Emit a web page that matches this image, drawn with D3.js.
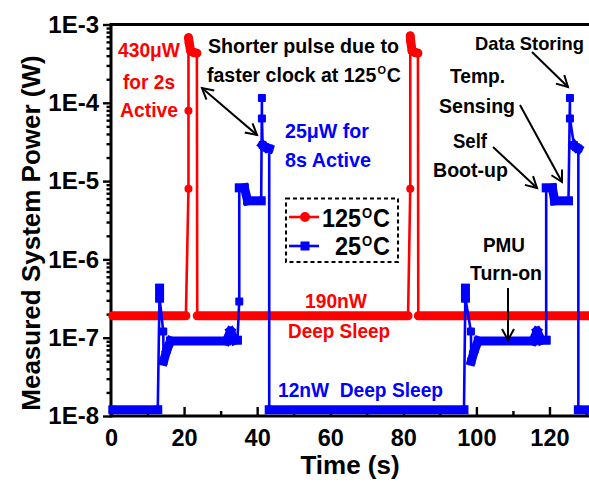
<!DOCTYPE html>
<html>
<head>
<meta charset="utf-8">
<script src="https://cdn.jsdelivr.net/npm/d3@7"></script>
<style>
  html, body { margin: 0; padding: 0; background: #fff; }
  svg { display: block; font-family: "Liberation Sans", Arial, Helvetica, sans-serif; font-weight: bold; }
</style>
</head>
<body>
<svg id="chart" width="589" height="483"></svg>
<script>
// ---- measured system power, 125 °C (time in s, power in W) ----
const time125  = [0.5, 20.5, 21.2, 21.2, 21.2, 21.4, 21.8, 22.6, 23.5, 23.6,
                  81.3, 81.9, 81.9, 82.0, 82.4, 83.2, 84.0, 84.1, 131.5];
const power125 = [1.9e-7, 1.9e-7, 8.0e-6, 7.9e-5, 6.8e-4, 5.8e-4, 4.6e-4, 4.4e-4, 4.3e-4, 1.9e-7,
                  1.9e-7, 8.0e-6, 7.2e-4, 6.2e-4, 4.6e-4, 4.4e-4, 4.3e-4, 1.9e-7, 1.9e-7];

// ---- measured system power, 25 °C ----
const time25  = [0.5, 12.8, 13.3, 13.3, 14.3, 14.4, 15.3, 16.3, 31.6, 32.7, 33.8, 34.6,
                 35.1, 35.1, 36.5, 37.4, 41.1, 41.3, 41.3, 41.5, 42.3, 43.3, 43.3,
                 96.6, 97.0, 97.0, 98.5, 98.6, 99.5, 100.5, 115.5, 116.6, 117.7, 119.1,
                 119.1, 120.8, 121.4, 125.2, 125.6, 125.6, 126.7, 127.3, 127.9, 127.9, 131.5];
const power25 = [1.2e-8, 1.2e-8, 4.3e-7, 3.2e-7, 1.2e-7, 5.0e-8, 7.0e-8, 9.1e-8, 9.1e-8, 1.2e-7, 9.3e-8, 9.3e-8,
                 2.9e-7, 8.2e-6, 8.2e-6, 5.6e-6, 5.6e-6, 1.15e-4, 6.3e-5, 2.9e-5, 2.7e-5, 2.6e-5, 1.2e-8,
                 1.2e-8, 4.3e-7, 3.2e-7, 1.2e-7, 5.0e-8, 7.0e-8, 9.1e-8, 9.1e-8, 1.2e-7, 9.3e-8, 9.3e-8,
                 8.2e-6, 8.2e-6, 5.6e-6, 5.6e-6, 1.15e-4, 6.3e-5, 2.9e-5, 2.7e-5, 2.6e-5, 1.2e-8, 1.2e-8];

// ---- axes ----
const xTicks = [0, 20, 40, 60, 80, 100, 120];
const xMinorTicks = [10, 30, 50, 70, 90, 110, 130];
const yTicks = [1e-8, 1e-7, 1e-6, 1e-5, 1e-4, 1e-3];
const yTickLabels = ["1E-8", "1E-7", "1E-6", "1E-5", "1E-4", "1E-3"];

const RED = "#ff0000", BLUE = "#0000ff";

const svg = d3.select("#chart");

const x = d3.scaleLinear().domain([0, 140]).range([111, 111 + 140 * 3.654]);
const y = d3.scaleLog().domain([1e-8, 1e-3]).range([416, 24.5]);

// frame: top border and left/bottom axis lines (the frame runs past the right edge)
const frame = svg.append("g").attr("stroke", "#000").attr("stroke-width", 3).attr("fill", "none");
frame.append("line").attr("x1", x(0)).attr("x2", x(140)).attr("y1", y(1e-3)).attr("y2", y(1e-3));
frame.append("line").attr("x1", x(0)).attr("x2", x(140)).attr("y1", y(1e-8)).attr("y2", y(1e-8));
frame.append("line").attr("x1", x(0)).attr("x2", x(0)).attr("y1", y(1e-3) - 1.5).attr("y2", y(1e-8) + 1.5);

// x axis: ticks point into the plot
const xAxis = svg.append("g").attr("transform", `translate(0,${y(1e-8)})`)
  .call(d3.axisBottom(x).tickValues(xTicks).tickSize(-9).tickPadding(13).tickFormat(d3.format("d")));
const xMinor = svg.append("g").attr("transform", `translate(0,${y(1e-8)})`)
  .call(d3.axisBottom(x).tickValues(xMinorTicks).tickSize(-5).tickFormat(""));

// y axis: ticks point outward, minor ticks at 2..9 of each decade
const yAxis = svg.append("g").attr("transform", `translate(${x(0)},0)`)
  .call(d3.axisLeft(y).tickValues(yTicks).tickSize(8).tickPadding(4)
        .tickFormat((d, i) => yTickLabels[i]));
const yMinorVals = y.ticks().filter(v => !yTicks.some(t => Math.abs(t - v) / t < 1e-6));
const yMinor = svg.append("g").attr("transform", `translate(${x(0)},0)`)
  .call(d3.axisLeft(y).tickValues(yMinorVals).tickSize(4.5).tickFormat(""));

[xAxis, xMinor, yAxis, yMinor].forEach(a => {
  a.select(".domain").remove();
  a.selectAll(".tick line").attr("stroke", "#000").attr("stroke-width", 2.4);
  a.selectAll("text").attr("font-family", null).attr("font-size", 24).attr("fill", "#000");
});
xAxis.selectAll("text").attr("font-size", 23.5);

// axis titles
svg.append("text").attr("x", 350).attr("y", 474).attr("text-anchor", "middle")
  .attr("font-size", 26).text("Time (s)");
svg.append("text").attr("transform", "translate(40,233) rotate(-90)").attr("text-anchor", "middle")
  .attr("font-size", 26).text("Measured System Power (W)");

// ---- series ----
const plot = svg.append("g");

function drawSeries(times, powers, color, shape) {
  const pts = times.map((t, i) => [x(t), y(powers[i])]);
  const g = plot.append("g");
  g.append("path").attr("d", d3.line()(pts))
    .attr("fill", "none").attr("stroke", color).attr("stroke-width", 2.6).attr("stroke-linejoin", "round");
  // steady levels are sampled densely, so their markers merge into a solid bar
  for (let i = 1; i < pts.length; i++) {
    if (Math.abs(Math.log10(powers[i] / powers[i - 1])) < 0.2) {
      g.append("line")
        .attr("x1", pts[i - 1][0]).attr("y1", pts[i - 1][1])
        .attr("x2", pts[i][0]).attr("y2", pts[i][1])
        .attr("stroke", color).attr("stroke-width", 9)
        .attr("stroke-linecap", shape === "circle" ? "round" : "square");
    }
  }
  if (shape === "circle") {
    g.selectAll("circle").data(pts).join("circle")
      .attr("cx", d => d[0]).attr("cy", d => d[1]).attr("r", 4).attr("fill", color);
  } else {
    g.selectAll("rect").data(pts).join("rect")
      .attr("x", d => d[0] - 4).attr("y", d => d[1] - 4).attr("width", 8).attr("height", 8)
      .attr("rx", 1).attr("fill", color);
  }
}
drawSeries(time125, power125, RED, "circle");
drawSeries(time25, power25, BLUE, "square");

// ---- legend ----
const lg = svg.append("g");
lg.append("rect").attr("x", 286).attr("y", 198.5).attr("width", 112).attr("height", 63.5)
  .attr("fill", "#fff").attr("stroke", "#000").attr("stroke-width", 2).attr("stroke-dasharray", "4,3");
lg.append("line").attr("x1", 289).attr("x2", 319).attr("y1", 217).attr("y2", 217)
  .attr("stroke", RED).attr("stroke-width", 2.6);
lg.append("circle").attr("cx", 305).attr("cy", 217).attr("r", 5).attr("fill", RED);
lg.append("line").attr("x1", 289).attr("x2", 319).attr("y1", 246).attr("y2", 246)
  .attr("stroke", BLUE).attr("stroke-width", 2.6);
lg.append("rect").attr("x", 300.5).attr("y", 241.5).attr("width", 9).attr("height", 9).attr("fill", BLUE);

// text helper: left edge, baseline, fitted width
function label(txt, left, base, width, size, color) {
  return svg.append("text").attr("x", left).attr("y", base)
    .attr("font-size", size).attr("fill", color || "#000")
    .attr("textLength", width).attr("lengthAdjust", "spacingAndGlyphs")
    .text(txt);
}

// temperature: number, a raised small "O" as the degree mark, then "C";
// laid out at natural size, then narrowed as a group to the given width
function tempText(num, left, base, totalWidth, size) {
  const g = svg.append("g");
  const n = g.append("text").attr("x", 0).attr("y", 0).attr("font-size", size).text(num);
  const w1 = n.node().getComputedTextLength();
  const oSize = size * 0.56;
  const o = g.append("text").attr("x", w1 + 1).attr("y", -size * 0.38).attr("font-size", oSize).text("O");
  const w2 = o.node().getComputedTextLength();
  const c = g.append("text").attr("x", w1 + w2 + 2).attr("y", 0).attr("font-size", size).text("C");
  const w3 = c.node().getComputedTextLength();
  const s = totalWidth / (w1 + w2 + w3 + 2);
  g.attr("transform", `translate(${left},${base}) scale(${s},1)`);
}

tempText("125", 322, 227, 68, 25);
tempText("25", 335, 255, 55, 25);

// ---- annotations ----
label("430μW", 118, 57, 62, 21, RED);
label("for 2s", 123, 89, 52, 21, RED);
label("Active", 120, 117, 58, 21, RED);

label("Shorter pulse due to", 208, 53, 191, 21);
tempText("faster clock at 125", 207, 82, 194, 21);

label("25μW for", 285, 138, 84, 21, BLUE);
label("8s Active", 285, 167, 86, 21, BLUE);

label("Data Storing", 475, 50, 109, 19);
label("Temp.", 450, 83, 55, 21);
label("Sensing", 439, 113, 76, 21);
label("Self", 453, 148, 34, 21);
label("Boot-up", 433, 177, 75, 21);
label("PMU", 483, 252, 42, 21);
label("Turn-on", 470, 280, 72, 21);

label("190nW", 305, 308, 62, 21, RED);
label("Deep Sleep", 288, 338, 102, 21, RED);
label("12nW\u00a0 Deep Sleep", 278, 397, 165, 21, BLUE);

// arrows with open heads
const arrows = svg.append("g").attr("stroke", "#000").attr("stroke-width", 2).attr("fill", "none");
function head(tip, from) {
  const dx = tip[0] - from[0], dy = tip[1] - from[1];
  const len = Math.hypot(dx, dy), ux = dx / len, uy = dy / len;
  const bx = tip[0] - ux * 11, by = tip[1] - uy * 11;
  arrows.append("path").attr("d",
    `M${bx - uy * 6},${by + ux * 6}L${tip[0]},${tip[1]}L${bx + uy * 6},${by - ux * 6}`);
}
function arrow(a, b, both) {
  arrows.append("line").attr("x1", a[0]).attr("y1", a[1]).attr("x2", b[0]).attr("y2", b[1]);
  head(b, a);
  if (both) head(a, b);
}
arrow([202, 88], [257, 135], true);
arrow([532, 52], [568, 87]);
arrow([520, 105], [562, 182]);
arrow([493, 147], [537, 188]);
arrow([508, 288], [508, 340]);
</script>
</body>
</html>
